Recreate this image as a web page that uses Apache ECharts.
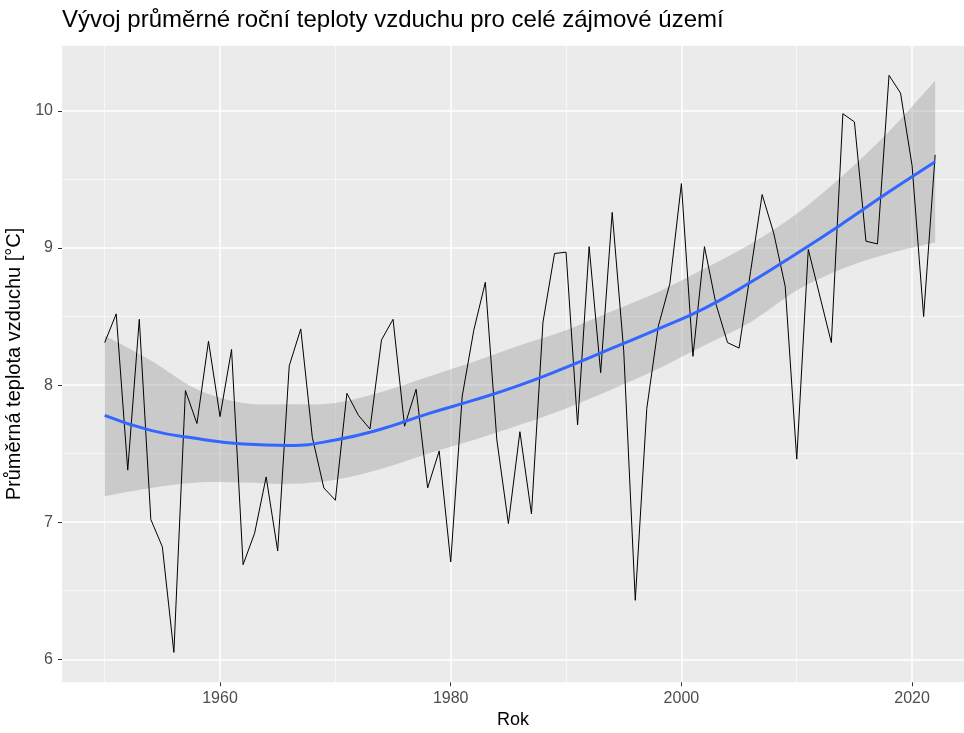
<!DOCTYPE html>
<html lang="cs">
<head>
<meta charset="UTF-8" />
<title>Vývoj průměrné roční teploty</title>
<script src="https://cdn.jsdelivr.net/npm/echarts@6.0.0/dist/echarts.min.js"></script>
<style>
  html, body { margin: 0; padding: 0; background: #fff; }
  #chart { width: 964px; height: 733px; }
</style>
</head>
<body>
<div id="chart"></div>
<script>
// annual mean air temperature, 1950-2022
var years = [
  1950, 1951, 1952, 1953, 1954, 1955, 1956, 1957, 1958, 1959,
  1960, 1961, 1962, 1963, 1964, 1965, 1966, 1967, 1968, 1969,
  1970, 1971, 1972, 1973, 1974, 1975, 1976, 1977, 1978, 1979,
  1980, 1981, 1982, 1983, 1984, 1985, 1986, 1987, 1988, 1989,
  1990, 1991, 1992, 1993, 1994, 1995, 1996, 1997, 1998, 1999,
  2000, 2001, 2002, 2003, 2004, 2005, 2006, 2007, 2008, 2009,
  2010, 2011, 2012, 2013, 2014, 2015, 2016, 2017, 2018, 2019,
  2020, 2021, 2022
];
var temps = [
  8.31, 8.52, 7.38, 8.48, 7.02, 6.82, 6.05, 7.96, 7.72, 8.32,
  7.77, 8.26, 6.69, 6.92, 7.33, 6.79, 8.14, 8.41, 7.62, 7.25,
  7.16, 7.94, 7.78, 7.68, 8.33, 8.48, 7.70, 7.97, 7.25, 7.52,
  6.71, 7.92, 8.40, 8.75, 7.60, 6.99, 7.66, 7.06, 8.46, 8.96,
  8.97, 7.71, 9.01, 8.09, 9.26, 8.25, 6.43, 7.83, 8.43, 8.74,
  9.47, 8.21, 9.01, 8.59, 8.31, 8.27, 8.83, 9.39, 9.11, 8.72,
  7.46, 8.99, 8.65, 8.31, 9.98, 9.92, 9.05, 9.03, 10.26, 10.13,
  9.60, 8.50, 9.68
];

// loess fit with confidence band
var fitYears = [1950, 1954, 1958, 1962, 1966, 1970, 1974, 1978, 1982, 1986,
                1990, 1994, 1998, 2002, 2006, 2010, 2014, 2018, 2022];
var fitMid = [7.78, 7.67, 7.61, 7.57, 7.56, 7.60, 7.68, 7.79, 7.89, 8.00,
              8.13, 8.27, 8.41, 8.56, 8.75, 8.96, 9.18, 9.41, 9.63];
var fitLo  = [7.19, 7.25, 7.29, 7.29, 7.28, 7.31, 7.39, 7.50, 7.60, 7.71,
              7.83, 7.97, 8.12, 8.29, 8.46, 8.69, 8.85, 8.96, 9.04];
var fitHi  = [8.36, 8.18, 7.97, 7.87, 7.86, 7.87, 7.95, 8.06, 8.17, 8.29,
              8.40, 8.54, 8.68, 8.85, 9.03, 9.25, 9.53, 9.85, 10.22];

var xMajor = [1960, 1980, 2000, 2020];
var xMinor = [1950, 1970, 1990, 2010];
var yMajor = [6, 7, 8, 9, 10];
var yMinor = [6.5, 7.5, 8.5, 9.5];

var FONT = 'Liberation Sans, Arial, sans-serif';

function pairs(xs, ys) {
  return xs.map(function (x, i) { return [x, ys[i]]; });
}

var chart = echarts.init(document.getElementById('chart'), null, { renderer: 'canvas' });

var tickStyle = { show: true, length: 4, lineStyle: { color: '#333333', width: 1 } };
function labelStyle(margin) {
  return {
    color: '#4D4D4D', fontSize: 16, fontFamily: FONT, margin: margin,
    formatter: function (v) { return String(v); }
  };
}

// smooth curve through pixel points (Catmull-Rom -> cubic bezier), appended to path
function curvePath(pts, start) {
  var d = (start ? 'M' : 'L') + pts[0][0] + ',' + pts[0][1];
  for (var i = 0; i < pts.length - 1; i++) {
    var p0 = pts[Math.max(i - 1, 0)], p1 = pts[i], p2 = pts[i + 1], p3 = pts[Math.min(i + 2, pts.length - 1)];
    var c1x = p1[0] + (p2[0] - p0[0]) / 6, c1y = p1[1] + (p2[1] - p0[1]) / 6;
    var c2x = p2[0] - (p3[0] - p1[0]) / 6, c2y = p2[1] - (p3[1] - p1[1]) / 6;
    d += 'C' + c1x + ',' + c1y + ' ' + c2x + ',' + c2y + ' ' + p2[0] + ',' + p2[1];
  }
  return d;
}

// confidence band: upper edge forward, lower edge back
function renderBand(params, api) {
  var up = [], lo = [];
  for (var i = 0; i < fitYears.length; i++) up.push(api.coord([fitYears[i], fitHi[i]]));
  for (var j = fitYears.length - 1; j >= 0; j--) lo.push(api.coord([fitYears[j], fitLo[j]]));
  return {
    type: 'path',
    shape: { pathData: curvePath(up, true) + curvePath(lo, false) + 'Z' },
    style: { fill: '#999999', opacity: 0.4 },
    silent: true
  };
}

chart.setOption({
  animation: false,
  backgroundColor: '#ffffff',
  title: {
    text: 'Vývoj průměrné roční teploty vzduchu pro celé zájmové území',
    left: 62,
    top: 8,
    padding: 0,
    textStyle: { color: '#000', fontSize: 24, fontWeight: 'normal', fontFamily: FONT }
  },
  grid: {
    left: 62, right: 0, top: 45.7, bottom: 50.7,
    show: true, backgroundColor: '#EBEBEB', borderWidth: 0,
    containLabel: false, outerBoundsMode: 'none'
  },
  xAxis: [
    {
      type: 'value', min: 1946.3, max: 2024.5,
      name: 'Rok', nameLocation: 'middle', nameGap: 27,
      nameTextStyle: { color: '#000', fontSize: 18, fontFamily: FONT },
      axisLine: { show: false },
      axisTick: Object.assign({ customValues: xMajor }, tickStyle),
      axisLabel: Object.assign({ customValues: xMajor }, labelStyle(8)),
      splitLine: { show: true, lineStyle: { color: '#ffffff', width: 1.5 } }
    },
    {
      type: 'value', min: 1946.3, max: 2024.5, position: 'bottom',
      axisLine: { show: false },
      axisTick: { show: false, customValues: xMinor },
      axisLabel: { show: false },
      splitLine: { show: true, lineStyle: { color: '#FAFAFA', width: 0.8 } }
    }
  ],
  yAxis: [
    {
      type: 'value', min: 5.832, max: 10.476,
      name: 'Průměrná teplota vzduchu [°C]', nameLocation: 'middle', nameGap: 28, nameRotate: 90,
      nameTextStyle: { color: '#000', fontSize: 20, fontFamily: FONT },
      axisLine: { show: false },
      axisTick: Object.assign({ customValues: yMajor }, tickStyle),
      axisLabel: Object.assign({ customValues: yMajor }, labelStyle(9)),
      splitLine: { show: true, lineStyle: { color: '#ffffff', width: 1.5 } }
    },
    {
      type: 'value', min: 5.832, max: 10.476, position: 'left',
      axisLine: { show: false },
      axisTick: { show: false, customValues: yMinor },
      axisLabel: { show: false },
      splitLine: { show: true, lineStyle: { color: '#FAFAFA', width: 0.8 } }
    }
  ],
  series: [
    {
      name: 'ci', type: 'custom', renderItem: renderBand,
      data: [[fitYears[0], fitMid[0]]],
      clip: true, silent: true, z: 2
    },
    {
      name: 'teplota', type: 'line', symbol: 'none',
      data: pairs(years, temps),
      lineStyle: { color: '#000000', width: 1 }, z: 3
    },
    {
      name: 'loess', type: 'line', smooth: true, symbol: 'none',
      data: pairs(fitYears, fitMid),
      lineStyle: { color: '#3366FF', width: 3 }, z: 4
    }
  ]
});
</script>
</body>
</html>
